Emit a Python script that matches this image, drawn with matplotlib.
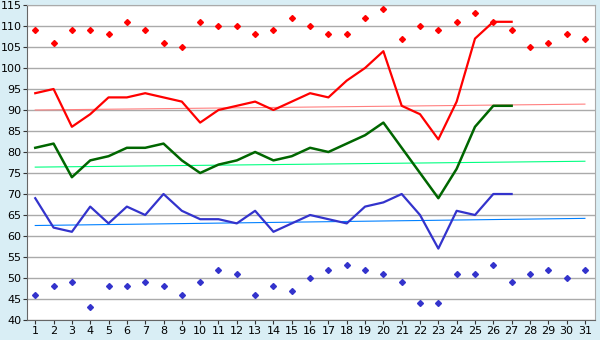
import numpy as np
import matplotlib
matplotlib.use("Agg")
import matplotlib.pyplot as plt

days = np.arange(1, 32)

max_pts = [109, 106, 109, 109, 108, 111, 109, 106, 105, 111,
           110, 110, 108, 109, 112, 110, 108, 108, 112, 114,
           107, 110, 109, 111, 113, 111, 109, 105, 106, 108, 107]
min_pts = [46, 48, 49, 43, 48, 48, 49, 48, 46, 49,
           52, 51, 46, 48, 47, 50, 52, 53, 52, 51,
           49, 44, 44, 51, 51, 53, 49, 51, 52, 50, 52]

red_line = [94, 95, 86, 89, 93, 93, 94, 93, 92, 87,
            90, 91, 92, 90, 92, 94, 93, 97, 100, 104,
            91, 89, 83, 92, 107, 111, 111]
green_line = [81, 82, 74, 78, 79, 81, 81, 82, 78, 75,
              77, 78, 80, 78, 79, 81, 80, 82, 84, 87,
              81, 75, 69, 76, 86, 91, 91]
blue_line = [69, 62, 61, 67, 63, 67, 65, 70, 66, 64,
             64, 63, 66, 61, 63, 65, 64, 63, 67, 68,
             70, 65, 57, 66, 65, 70, 70]

# trend values at day 1 and day 31
red_trend = [90.0, 91.4]
green_trend = [76.4, 77.8]
blue_trend = [62.5, 64.2]

bg = "#d9eef5"
fig = plt.figure(figsize=(6, 3.4), dpi=100)
fig.patch.set_facecolor(bg)
ax = fig.add_axes([27 / 600, 20 / 340, 568 / 600, 315 / 340])
ax.set_facecolor("white")

ax.set_xlim(0.55, 31.55)
ax.set_ylim(40, 115)
ax.set_yticks(np.arange(40, 116, 5))
ax.set_xticks(days)
ax.grid(axis="y", color="#aaaaaa", lw=1)
ax.set_axisbelow(True)

n = len(red_line)
x_tr = [1, 31]
ax.plot(x_tr, red_trend, color="#ff8080", lw=0.8)
ax.plot(x_tr, green_trend, color="#00ff80", lw=0.8)
ax.plot(x_tr, blue_trend, color="#0080ff", lw=0.8)

ax.plot(days[:n], red_line, color="#ff0000", lw=1.6)
ax.plot(days[:n], green_line, color="#006600", lw=1.8)
ax.plot(days[:n], blue_line, color="#3333cc", lw=1.6)

ax.plot(days, max_pts, ls="none", marker="D", ms=3.0, color="#ff0000")
ax.plot(days, min_pts, ls="none", marker="D", ms=3.0, color="#3333cc")

for s in ["top", "right"]:
    ax.spines[s].set_color("#aaaaaa")
for s in ["left", "bottom"]:
    ax.spines[s].set_color("#666666")
ax.tick_params(labelsize=8, length=3, color="#333333", pad=1)

fig.savefig("out.png", dpi=100, facecolor=bg)
